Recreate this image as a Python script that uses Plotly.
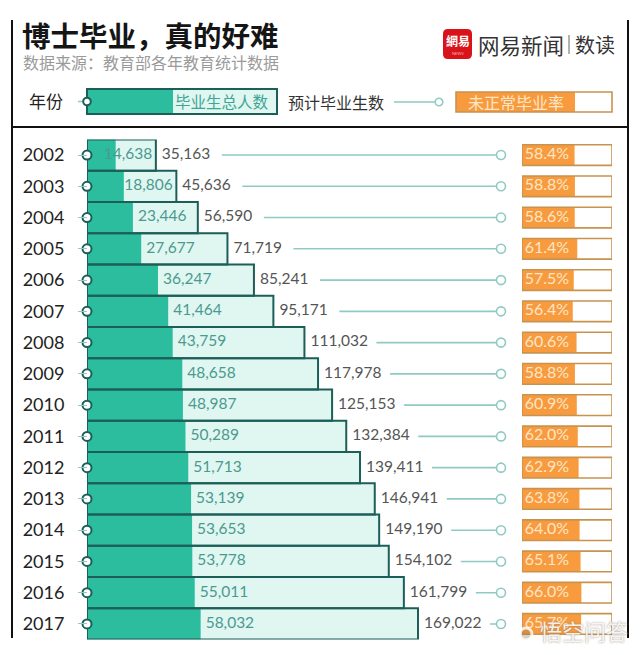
import plotly.graph_objects as go

years = [str(y) for y in range(2002, 2018)]
graduates = [14638, 18806, 23446, 27677, 36247, 41464, 43759, 48658, 48987, 50289, 51713, 53139, 53653, 53778, 55011, 58032]
expected = [35163, 45636, 56590, 71719, 85241, 95171, 111032, 117978, 125153, 132384, 139411, 146941, 149190, 154102, 161799, 169022]
late_rate = [58.4, 58.8, 58.6, 61.4, 57.5, 56.4, 60.6, 58.8, 60.9, 62.0, 62.9, 63.8, 64.0, 65.1, 66.0, 65.7]
title_text = "博士毕业，真的好难"
source_text = "数据来源：教育部各年教育统计数据"

W, H = 640, 655
X0 = 87
PX = 331 / 169022  # pixels per graduate
TEAL, PALE, DARK = "#2cbd9f", "#e0f6f1", "#1c5f58"
ORANGE, EDGE = "#f89b3e", "#c8934f"
LINE = "#8fcac3"
CJK = "Noto Sans CJK SC"
NUM = "Lato"


def xp(px):
    return px / W


def yp(py):
    return 1 - py / H


fig = go.Figure()
fig.add_bar(y=years, x=expected, orientation="h", width=1, marker=dict(color=PALE, line_width=0),
            xaxis="x", yaxis="y", hoverinfo="skip")
fig.add_bar(y=years, x=graduates, orientation="h", width=1, marker=dict(color=TEAL, line_width=0),
            xaxis="x", yaxis="y", hoverinfo="skip")
fig.add_bar(y=years, x=expected, orientation="h", width=1,
            marker=dict(color="rgba(0,0,0,0)", line=dict(color=DARK, width=2)),
            xaxis="x", yaxis="y", hoverinfo="skip")

# inner labels: start just right of the teal part, but stay inside the outer bar
inner_x = [min(g + 5 / PX, e - 52 / PX) for g, e in zip(graduates, expected)]
fig.add_scatter(y=years, x=inner_x, mode="text", text=[f"{g:,}" for g in graduates],
                textposition="middle right", textfont=dict(family=NUM, size=15.5, color="#4b9a8f"),
                xaxis="x", yaxis="y", hoverinfo="skip")
fig.add_scatter(y=[*years], x=[e + 6 / PX for e in expected], mode="text", text=[f"{e:,}" for e in expected],
                textposition="middle right", textfont=dict(family=NUM, size=15.5, color="#555555"),
                xaxis="x", yaxis="y", hoverinfo="skip")

# connectors to the rate column
END = (501 - X0) / PX
for yr, e in zip(years, expected):
    gap = 72 if e >= 100000 else 66
    fig.add_scatter(y=[yr, yr], x=[e + gap / PX, END], mode="lines", line=dict(color=LINE, width=1.6),
                    xaxis="x", yaxis="y", hoverinfo="skip")
fig.add_scatter(y=years, x=[END] * len(years), mode="markers",
                marker=dict(size=9, color="white", line=dict(color=LINE, width=1.6)),
                xaxis="x", yaxis="y", hoverinfo="skip")
fig.add_scatter(y=years, x=[0] * len(years), mode="markers", cliponaxis=False,
                marker=dict(size=9, color="white", line=dict(color=DARK, width=2)),
                xaxis="x", yaxis="y", hoverinfo="skip")

# rate column
fig.add_bar(y=years, x=[100] * len(years), orientation="h", width=0.66,
            marker=dict(color="white", line_width=0),
            xaxis="x2", yaxis="y2", hoverinfo="skip")
fig.add_bar(y=years, x=late_rate, orientation="h", width=0.66, marker=dict(color=ORANGE, line_width=0),
            xaxis="x2", yaxis="y2", hoverinfo="skip")
fig.add_bar(y=years, x=[100] * len(years), orientation="h", width=0.66,
            marker=dict(color="rgba(0,0,0,0)", line=dict(color=EDGE, width=1.6)),
            xaxis="x2", yaxis="y2", hoverinfo="skip")
fig.add_scatter(y=years, x=[3] * len(years), mode="text", text=[f"{r:.1f}%" for r in late_rate],
                textposition="middle right", textfont=dict(family=NUM, size=16, color="#fde6c8"),
                xaxis="x2", yaxis="y2", hoverinfo="skip")

shapes = []


def rect(x0, y0, x1, y1, fill, line=None, lw=0):
    shapes.append(dict(type="rect", xref="paper", yref="paper", x0=xp(x0), x1=xp(x1), y0=yp(y1), y1=yp(y0),
                       fillcolor=fill, line=dict(color=line or fill, width=lw), layer="above"))


def seg(x0, y0, x1, y1, color, lw):
    shapes.append(dict(type="line", xref="paper", yref="paper", x0=xp(x0), x1=xp(x1), y0=yp(y0), y1=yp(y1),
                       line=dict(color=color, width=lw), layer="above"))


def circ(cx, cy, r, line, lw, fill="white"):
    shapes.append(dict(type="circle", xref="paper", yref="paper", x0=xp(cx - r), x1=xp(cx + r),
                       y0=yp(cy + r), y1=yp(cy - r), fillcolor=fill, line=dict(color=line, width=lw), layer="above"))


# frame
seg(12, 20, 12, 638, "#111111", 2)
seg(628, 20, 628, 638, "#111111", 2)
seg(12, 127, 628, 127, "#111111", 2)

# legend row
rect(87, 89, 277, 114, PALE)
rect(87, 89, 173, 114, TEAL)
rect(87, 89, 277, 114, "rgba(0,0,0,0)", DARK, 2)
seg(78, 101.5, 87, 101.5, LINE, 1.5)
circ(87, 101.5, 3.8, DARK, 2)
seg(394, 102, 436, 102, LINE, 1.6)
circ(439, 102, 3.8, LINE, 1.6)
rect(456, 92, 612, 112, "white")
rect(456, 92, 575, 112, ORANGE)
rect(456, 92, 612, 112, "rgba(0,0,0,0)", EDGE, 1.6)

# logo: rounded red square
lx0, lx1, ly0, ly1, r = xp(443), xp(472), yp(59), yp(29), 5 / W
ry = 5 / H
shapes.append(dict(type="path", xref="paper", yref="paper", layer="above", fillcolor="#d8131a",
                   line=dict(color="#d8131a", width=0),
                   path=f"M {lx0 + r} {ly0} L {lx1 - r} {ly0} Q {lx1} {ly0} {lx1} {ly0 + ry} "
                        f"L {lx1} {ly1 - ry} Q {lx1} {ly1} {lx1 - r} {ly1} L {lx0 + r} {ly1} "
                        f"Q {lx0} {ly1} {lx0} {ly1 - ry} L {lx0} {ly0 + ry} Q {lx0} {ly0} {lx0 + r} {ly0} Z"))
seg(569, 35, 569, 54, "#666666", 1)

# watermark blob
circ(526, 634, 6, "rgba(255,255,255,0.8)", 3, "rgba(150,120,90,0.35)")

anns = []


def label(text, x, y, size, color, family=CJK, anchor="left", bold=False, shadow=None):
    font = dict(family=family, size=size, color=color)
    if shadow:
        font["shadow"] = shadow
    anns.append(dict(text=f"<b>{text}</b>" if bold else text, xref="paper", yref="paper", x=xp(x), y=yp(y),
                     xanchor=anchor, yanchor="middle", showarrow=False, font=font))


label(title_text, 20, 35, 28.5, "#151515", bold=True)
label(source_text, 21, 62, 16, "#9a9a9a")
label("網易", 457.5, 41, 12, "white", anchor="center", bold=True)
label("NEWS", 457.5, 53, 4, "#f5b5b5", family=NUM, anchor="center")
label("网易新闻", 476, 44, 21.5, "#333333")
label("数读", 573, 44, 20, "#333333")
label("年份", 27, 100, 17, "#222222")
label("毕业生总人数", 173, 101, 15.5, "#3fa596")
label("预计毕业生数", 286, 102, 16, "#333333")
label("未正常毕业率", 466, 102, 16, "#fde6c8")
label("悟空问答", 584, 630, 22, "rgba(255,255,255,0.9)", anchor="center", shadow="0px 0px 2px #8a7a6a")

fig.update_layout(
    width=W, height=H, margin=dict(l=0, r=0, t=0, b=0), autosize=False,
    paper_bgcolor="white", plot_bgcolor="rgba(0,0,0,0)",
    barmode="overlay", showlegend=False, shapes=shapes, annotations=anns,
    xaxis=dict(domain=[xp(X0), 1], range=[0, (W - X0) / PX], visible=False),
    yaxis=dict(domain=[yp(639.6), yp(139.4)], type="category", range=[15.5, -0.5], anchor="free", position=xp(X0),
               showgrid=False, showline=False, zeroline=False, ticks="outside", ticklen=9, tickcolor=LINE,
               tickwidth=1.2, ticklabelstandoff=10, tickfont=dict(family=NUM, size=18, color="#222222")),
    xaxis2=dict(domain=[xp(522), xp(612)], range=[0, 100], visible=False, anchor="y2"),
    yaxis2=dict(domain=[yp(639.6), yp(139.4)], type="category", range=[15.5, -0.5], visible=False, anchor="x2"),
)
fig.write_html("out.html", config=dict(displayModeBar=False),
               post_script="document.body.style.margin='0';document.documentElement.style.overflow='hidden';")
